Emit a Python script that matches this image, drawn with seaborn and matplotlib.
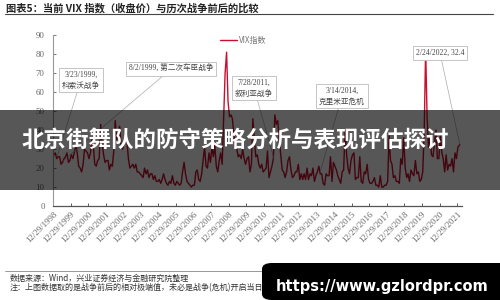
import numpy as np
import pandas as pd
import matplotlib
matplotlib.use("Agg")
import matplotlib.pyplot as plt
from matplotlib.patches import Rectangle, FancyBboxPatch
import seaborn as sns

sns.set_theme(style="white")
plt.rcParams['font.family'] = ['Noto Sans CJK SC', 'DejaVu Sans']

# ---------------- data (monthly readings of VIX, Dec 1998 - Feb 2022) ----------------
start_month = "1998-12-01"
vix_values = [
    24,
    27, 28, 25, 26, 26, 22, 23, 25, 26, 28, 23, 24,          # 1999
    27, 25, 28, 32, 28, 21, 20, 18, 22, 30, 29, 28,          # 2000
    25, 28, 35, 32, 22, 21, 24, 25, 43, 33, 27, 23,          # 2001
    24, 24, 19, 22, 21, 29, 45, 35, 40, 42, 31, 30,          # 2002
    33, 35, 34, 25, 20, 21, 22, 20, 22, 18, 18, 17,          # 2003
    16, 15, 20, 17, 19, 15, 17, 17, 14, 16, 13, 13,          # 2004
    14, 12, 14, 17, 14, 12, 11, 13, 12, 16, 12, 11,          # 2005
    13, 12, 11, 12, 18, 23, 17, 13, 12, 11, 10, 11,          # 2006
    11, 18, 19, 14, 13, 17, 24, 31, 21, 20, 28, 23,          # 2007
    31, 26, 32, 21, 18, 24, 28, 22, 46, 70, 81, 55,          # 2008
    47, 48, 46, 38, 32, 30, 26, 27, 25, 30, 25, 22,          # 2009
    25, 26, 18, 22, 46, 35, 26, 27, 22, 20, 22, 18,          # 2010
    19, 20, 29, 15, 18, 21, 25, 48, 43, 45, 35, 27,          # 2011
    19, 18, 15, 18, 24, 26, 19, 15, 16, 18, 18, 22,          # 2012
    14, 17, 14, 17, 14, 20, 14, 17, 16, 20, 13, 16,          # 2013
    18, 21, 17, 17, 12, 11, 17, 16, 16, 26, 13, 23,          # 2014
    21, 19, 16, 14, 12, 18, 19, 40, 27, 20, 17, 24,          # 2015
    27, 28, 14, 15, 15, 26, 13, 12, 18, 17, 22, 14,          # 2016
    12, 12, 13, 15, 11, 11, 10, 16, 10, 10, 11, 11,          # 2017
    13, 37, 24, 22, 15, 16, 13, 13, 12, 25, 22, 36,          # 2018
    20, 15, 17, 13, 19, 17, 16, 24, 17, 18, 13, 14,          # 2019
    18, 40, 82.7, 46, 31, 36, 27, 26, 33, 40, 25, 25,        # 2020
    37, 28, 25, 18, 27, 19, 22, 21, 25, 18, 28, 25,          # 2021
    31, 32.4,                                                # 2022
]
tick_labels = [f"12/29/{y}" for y in range(1998, 2022)]
events = [
    ("3/23/1999,\n科索沃战争", "1999-03-23", 26),
    ("8/2/1999, 第二次车臣战争", "1999-08-02", 24),
    ("7/28/2011,\n叙利亚战争", "2011-07-28", 25),
    ("3/14/2014,\n克里米亚危机", "2014-03-14", 18),
    ("2/24/2022, 32.4", "2022-02-24", 32.4),
]
chart_title = "图表5：当前 VIX 指数（收盘价）与历次战争前后的比较"
series_name = "VIX指数"
source_1 = "数据来源：Wind，兴业证券经济与金融研究院整理"
source_2 = "注：上图数据取的是战争前后的相对极端值，未必是战争(危机)开启当日的数值"
banner_text = "北京街舞队的防守策略分析与表现评估探讨"
watermark = "https://www.gzlordpr.com"

dates = list(pd.date_range(start_month, periods=len(vix_values) - 1, freq="MS") + pd.Timedelta(days=14))
dates.append(pd.Timestamp("2022-02-24"))
df = pd.DataFrame({"date": dates, "vix": vix_values})

# ---------------- figure ----------------
fig = plt.figure(figsize=(5, 3), dpi=100)
ax = fig.add_axes([0.106, 0.313, 0.818, 0.57])

sns.lineplot(data=df, x="date", y="vix", ax=ax, color="#C8102E", lw=1.0, label=series_name)

ax.set_ylim(0, 90)
ax.set_yticks(range(0, 91, 10))
tick_dates = [pd.Timestamp(f"{y}-12-29") for y in range(1998, 2022)]
ax.set_xlim(pd.Timestamp("1998-12-29"), pd.Timestamp("2022-04-10"))
ax.set_xticks(tick_dates)
ax.set_xticklabels(tick_labels, rotation=45, ha="right", rotation_mode="anchor",
                   fontsize=6.4, color="#666666", family="Liberation Serif")
for lab in ax.get_yticklabels():
    lab.set_family("Liberation Serif")
ax.tick_params(axis="y", labelsize=6.3, colors="#666666", direction="in", length=2.5, width=0.6, pad=6, left=True)
ax.tick_params(axis="x", direction="in", length=2.5, width=0.6, pad=3, bottom=True, colors="#444444")
for lab in ax.get_xticklabels():
    lab.set_color("#666666")
ax.set_xlabel("")
ax.set_ylabel("")
for s in ["top", "right"]:
    ax.spines[s].set_visible(False)
ax.spines["left"].set_color("#999999")
ax.spines["left"].set_linewidth(0.8)
ax.spines["bottom"].set_color("#555555")
ax.spines["bottom"].set_linewidth(0.9)

leg = ax.legend(loc="upper left", bbox_to_anchor=(0.39, 1.04), frameon=False,
                fontsize=5.8, handlelength=2.2, handletextpad=0.2)
for t in leg.get_texts():
    t.set_color("#777777")

# annotation boxes (positions in figure pixels)
box_pos = [(81, 220), (171, 231), (254, 212), (342, 204), (440, 247)]
for (txt, d, v), (bx, by) in zip(events, box_pos):
    ax.annotate(txt, xy=(pd.Timestamp(d), v), xytext=(bx, by), textcoords="figure pixels",
                ha="center", va="center", fontsize=5.5, color="#444444", linespacing=1.5,
                family=["Liberation Serif", "Noto Sans CJK SC"],
                bbox=dict(boxstyle="square,pad=0.35", fc="white", ec="#bbbbbb", lw=0.6),
                arrowprops=dict(arrowstyle="-", color="#aaaaaa", lw=0.5, shrinkA=0, shrinkB=0))

# title + rules
fig.text(0.012, 0.972, chart_title, fontsize=7.4, fontweight="bold", color="#222222", va="center")
fig.add_artist(plt.Line2D([0.01, 0.985], [0.953, 0.953], color="#444444", lw=0.8))
fig.add_artist(plt.Line2D([0.01, 0.985], [0.097, 0.097], color="#888888", lw=0.6))
fig.text(0.02, 0.073, source_1, fontsize=5.8, color="#333333", va="center")
fig.text(0.02, 0.040, source_2, fontsize=5.8, color="#333333", va="center")

# overlay banner
fig.add_artist(Rectangle((0, 1 - 190 / 300), 1, 80 / 300, transform=fig.transFigure,
                         facecolor="black", alpha=0.66, edgecolor="none", zorder=10))
fig.text(0.47, 1 - 141 / 300, banner_text, fontsize=16.2, fontweight="bold", color="white",
         ha="center", va="center", zorder=11)

# watermark
fig.add_artist(FancyBboxPatch((262 / 500, 0.0), 1 - 262 / 500 + 0.02, 37 / 300,
                              boxstyle="round,pad=0,rounding_size=0.02", transform=fig.transFigure,
                              facecolor="black", edgecolor="none", zorder=12))
fig.text(382 / 500, 1 - 287 / 300, watermark, fontsize=10.5, fontweight="bold", color="white",
         ha="center", va="center", family="DejaVu Sans", zorder=13)

fig.savefig("out.png", dpi=100)
